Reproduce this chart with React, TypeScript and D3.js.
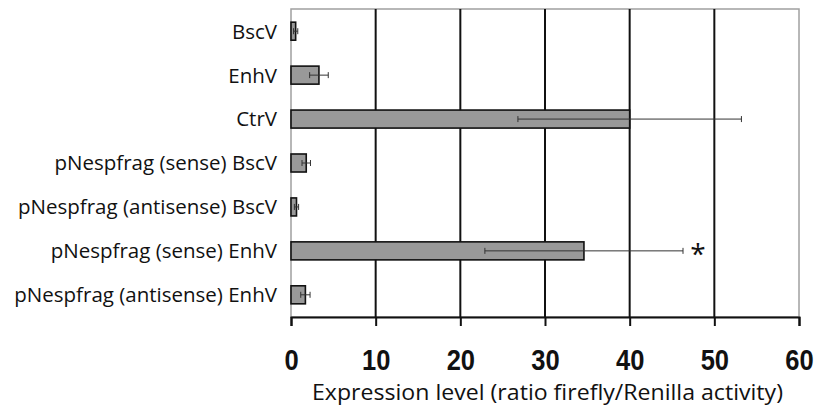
import React, { useEffect, useRef } from "react";
import * as d3 from "d3";

const categories = [
  "BscV",
  "EnhV",
  "CtrV",
  "pNespfrag (sense) BscV",
  "pNespfrag (antisense) BscV",
  "pNespfrag (sense) EnhV",
  "pNespfrag (antisense) EnhV",
];
const values = [0.55, 3.3, 40.0, 1.8, 0.65, 34.6, 1.7];
const errors = [0.25, 1.1, 13.2, 0.5, 0.25, 11.7, 0.55];
const significant = [false, false, false, false, false, true, false];
const xTicks = [0, 10, 20, 30, 40, 50, 60];
const xTitle = "Expression level (ratio firefly/Renilla activity)";

const App: React.FC = () => {
  const svgRef = useRef<SVGSVGElement>(null);
  const width = 815;
  const height = 412;
  const margin = { top: 9, right: 16, bottom: 95, left: 291 };
  const w = width - margin.left - margin.right;
  const h = height - margin.top - margin.bottom;

  useEffect(() => {
    const svg = d3.select(svgRef.current);
    svg.selectAll("*").remove();

    const x = d3.scaleLinear().domain([0, 60]).range([0, w]);
    const y = d3.scaleBand().domain(categories).range([0, h]).paddingInner(0.59).paddingOuter(0.3);

    const g = svg.append("g").attr("transform", `translate(${margin.left},${margin.top})`);

    // plot frame (light grey)
    g.append("rect")
      .attr("x", 0).attr("y", 0).attr("width", w).attr("height", h)
      .attr("fill", "none").attr("stroke", "#a0a0a0").attr("stroke-width", 1.5);

    // gridlines
    g.selectAll(".grid")
      .data(xTicks.filter((t) => t > 0 && t < 60))
      .enter().append("line")
      .attr("x1", (d) => x(d)).attr("x2", (d) => x(d))
      .attr("y1", 0).attr("y2", h)
      .attr("stroke", "#111").attr("stroke-width", 2);

    // bars
    const data = categories.map((c, i) => ({ c, v: values[i], e: errors[i], s: significant[i] }));
    g.selectAll(".bar")
      .data(data)
      .enter().append("rect")
      .attr("x", 0)
      .attr("y", (d) => y(d.c)!)
      .attr("width", (d) => x(d.v))
      .attr("height", y.bandwidth())
      .attr("fill", "#999999")
      .attr("stroke", "#111")
      .attr("stroke-width", 1.6);

    // error bars
    const eb = g.selectAll(".err").data(data).enter().append("g")
      .attr("transform", (d) => `translate(0,${y(d.c)! + y.bandwidth() / 2})`);
    eb.append("line")
      .attr("x1", (d) => x(Math.max(0, d.v - d.e))).attr("x2", (d) => x(d.v + d.e))
      .attr("stroke", "#333").attr("stroke-width", 1);
    eb.append("line")
      .attr("x1", (d) => x(Math.max(0, d.v - d.e))).attr("x2", (d) => x(Math.max(0, d.v - d.e)))
      .attr("y1", -3).attr("y2", 3)
      .attr("stroke", "#333").attr("stroke-width", 1);
    eb.append("line")
      .attr("x1", (d) => x(d.v + d.e)).attr("x2", (d) => x(d.v + d.e))
      .attr("y1", -3).attr("y2", 3)
      .attr("stroke", "#333").attr("stroke-width", 1);

    // asterisk
    g.selectAll(".star")
      .data(data.filter((d) => d.s))
      .enter().append("text")
      .attr("x", (d) => x(d.v + d.e) + 15)
      .attr("y", (d) => y(d.c)! + y.bandwidth() / 2 + 13)
      .attr("text-anchor", "middle")
      .attr("font-family", "'Open Sans', sans-serif")
      .attr("font-size", 28)
      .attr("fill", "#111")
      .text("*");

    // category labels
    g.selectAll(".cat")
      .data(categories)
      .enter().append("text")
      .attr("x", -14)
      .attr("y", (d) => y(d)! + y.bandwidth() / 2)
      .attr("dy", "0.36em")
      .attr("text-anchor", "end")
      .attr("font-family", "'Open Sans', sans-serif")
      .attr("font-size", 20.5)
      .attr("fill", "#111")
      .text((d) => d);

    // bottom axis
    const ax = g.append("g").attr("transform", `translate(0,${h})`)
      .call(d3.axisBottom(x).tickValues(xTicks).tickSize(9).tickPadding(23).tickFormat(d3.format("d")));
    ax.select(".domain").attr("stroke", "#111").attr("stroke-width", 2);
    ax.selectAll(".tick line").attr("stroke", "#111").attr("stroke-width", 2);
    ax.selectAll(".tick text")
      .attr("font-family", "'Liberation Sans', Arial, sans-serif")
      .attr("font-weight", "bold")
      .attr("font-size", 30)
      .attr("transform", "scale(0.85,1)")
      .attr("fill", "#111");

    svg.append("text")
      .attr("x", 547.5)
      .attr("y", 400)
      .attr("text-anchor", "middle")
      .attr("font-family", "'Open Sans', sans-serif")
      .attr("font-size", 22)
      .attr("textLength", 471)
      .attr("lengthAdjust", "spacingAndGlyphs")
      .attr("fill", "#111")
      .text(xTitle);
  }, []);

  return (
    <svg
      ref={svgRef}
      width={width}
      height={height}
      style={{ position: "absolute", left: 0, top: 0, background: "#fff" }}
    />
  );
};

export default App;
